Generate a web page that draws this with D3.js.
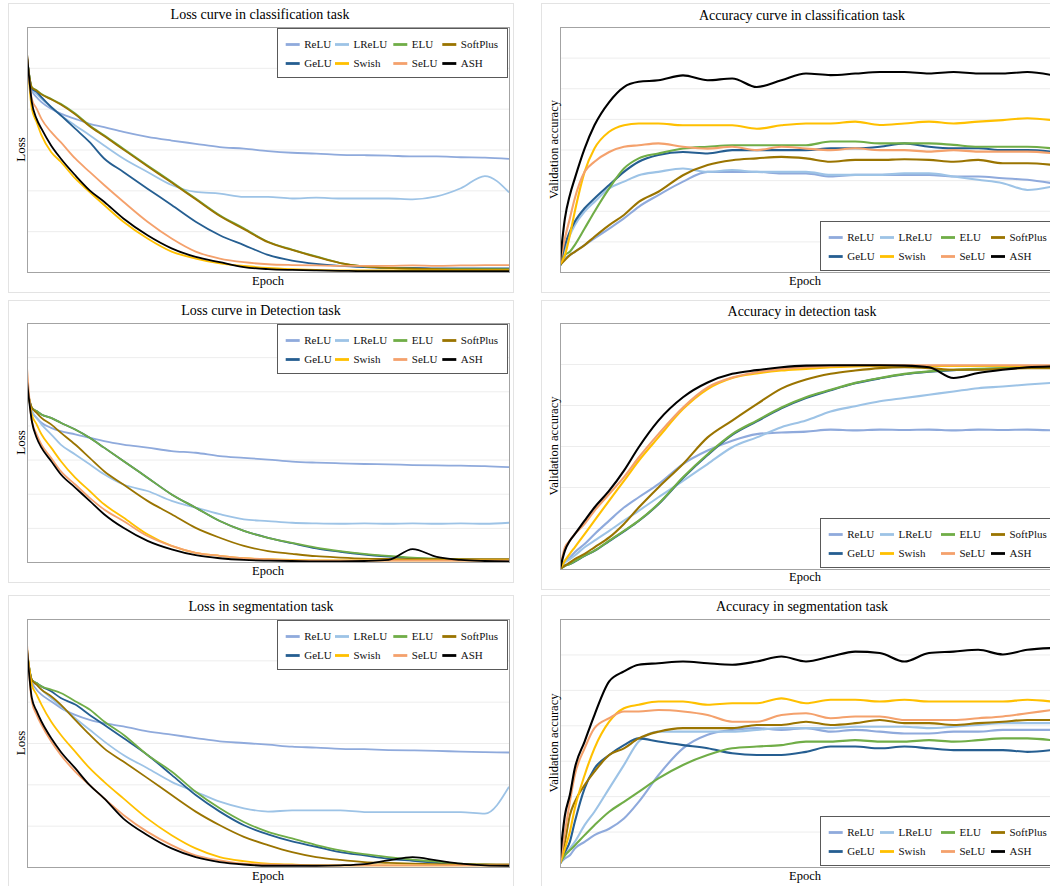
<!DOCTYPE html>
<html>
<head>
<meta charset="utf-8">
<script src="https://cdn.jsdelivr.net/npm/d3@7"></script>
<style>
  body { margin: 0; background: #fff; }
  svg { display: block; font-family: "Liberation Serif", "Times New Roman", serif; }
</style>
</head>
<body>
<svg width="1050" height="886"></svg>
<script>
let epochs = [0, 2, 4, 6, 10, 14, 20, 26, 32, 40, 50, 60, 70, 80, 90, 100, 110, 120, 130, 140, 150, 160, 170, 180, 190, 200];
let seriesNames = ["ReLU", "LReLU", "ELU", "SoftPlus", "GeLU", "Swish", "SeLU", "ASH"];
let drawOrder = ["ReLU", "LReLU", "GeLU", "ELU", "SoftPlus", "Swish", "SeLU", "ASH"];
let colors = {ReLU: "#8faadc", LReLU: "#9dc3e6", ELU: "#70ad47", SoftPlus: "#9a7400",
              GeLU: "#255e91", Swish: "#ffc000", SeLU: "#f4a16c", ASH: "#000000"};

// loss, classification
let lossClsReLU     = [5.25, 4.45, 4.28, 4.16, 4.00, 3.88, 3.75, 3.63, 3.55, 3.43, 3.31, 3.22, 3.14, 3.06, 3.02, 2.96, 2.92, 2.90, 2.87, 2.86, 2.85, 2.83, 2.83, 2.81, 2.80, 2.77];
let lossClsLReLU    = [5.25, 4.49, 4.36, 4.24, 4.04, 3.84, 3.59, 3.35, 3.10, 2.78, 2.45, 2.13, 1.96, 1.92, 1.84, 1.84, 1.80, 1.82, 1.80, 1.80, 1.80, 1.78, 1.85, 2.05, 2.35, 1.95];
let lossClsELU      = [5.25, 4.53, 4.45, 4.36, 4.24, 4.12, 3.88, 3.59, 3.35, 3.02, 2.61, 2.21, 1.80, 1.39, 1.07, 0.74, 0.55, 0.38, 0.22, 0.14, 0.10, 0.08, 0.07, 0.07, 0.07, 0.07];
let lossClsSoftPlus = [5.25, 4.52, 4.44, 4.35, 4.23, 4.10, 3.86, 3.57, 3.33, 3.00, 2.59, 2.19, 1.78, 1.37, 1.05, 0.73, 0.54, 0.37, 0.22, 0.14, 0.10, 0.08, 0.07, 0.06, 0.06, 0.06];
let lossClsGeLU     = [5.25, 4.49, 4.41, 4.28, 4.04, 3.84, 3.51, 3.18, 2.78, 2.45, 2.04, 1.64, 1.23, 0.90, 0.66, 0.42, 0.28, 0.20, 0.15, 0.12, 0.10, 0.10, 0.09, 0.09, 0.09, 0.09];
let lossClsSwish    = [5.35, 4.00, 3.67, 3.35, 2.94, 2.70, 2.29, 1.96, 1.64, 1.23, 0.82, 0.50, 0.33, 0.21, 0.15, 0.10, 0.07, 0.05, 0.04, 0.04, 0.04, 0.04, 0.04, 0.04, 0.04, 0.04];
let lossClsSeLU     = [5.30, 4.24, 4.00, 3.75, 3.43, 3.18, 2.78, 2.45, 2.13, 1.72, 1.23, 0.82, 0.50, 0.33, 0.24, 0.19, 0.17, 0.16, 0.15, 0.15, 0.15, 0.16, 0.15, 0.16, 0.17, 0.17];
let lossClsASH      = [5.35, 4.16, 3.75, 3.51, 3.10, 2.78, 2.37, 2.00, 1.72, 1.31, 0.90, 0.58, 0.37, 0.24, 0.12, 0.07, 0.05, 0.04, 0.03, 0.02, 0.02, 0.02, 0.02, 0.02, 0.02, 0.02];

// accuracy, classification
let accClsReLU     = [0.20, 0.45, 0.55, 0.66, 0.88, 1.10, 1.42, 1.75, 2.13, 2.51, 2.95, 3.27, 3.27, 3.27, 3.22, 3.22, 3.12, 3.17, 3.17, 3.17, 3.17, 3.12, 3.12, 3.06, 3.01, 2.90];
let accClsLReLU    = [0.30, 0.77, 1.20, 1.53, 1.97, 2.29, 2.73, 2.95, 3.16, 3.27, 3.38, 3.27, 3.33, 3.27, 3.27, 3.27, 3.17, 3.17, 3.17, 3.22, 3.22, 3.12, 3.01, 2.90, 2.68, 2.79];
let accClsELU      = [0.20, 0.55, 0.66, 0.88, 1.42, 1.97, 2.73, 3.38, 3.71, 3.87, 4.03, 4.09, 4.14, 4.14, 4.14, 4.14, 4.26, 4.26, 4.20, 4.20, 4.20, 4.15, 4.09, 4.09, 4.09, 4.04];
let accClsSoftPlus = [0.23, 0.39, 0.55, 0.66, 0.88, 1.15, 1.53, 1.86, 2.29, 2.62, 3.16, 3.49, 3.65, 3.71, 3.76, 3.71, 3.60, 3.66, 3.66, 3.68, 3.66, 3.60, 3.66, 3.55, 3.55, 3.50];
let accClsGeLU     = [0.20, 0.88, 1.32, 1.64, 2.08, 2.40, 2.84, 3.27, 3.60, 3.82, 3.92, 3.87, 3.98, 3.98, 3.98, 3.98, 4.04, 4.04, 4.09, 4.20, 4.09, 4.04, 4.04, 3.98, 3.98, 3.93];
let accClsSwish    = [0.25, 0.55, 1.20, 1.97, 3.27, 4.03, 4.58, 4.79, 4.85, 4.85, 4.79, 4.79, 4.79, 4.68, 4.79, 4.85, 4.85, 4.91, 4.80, 4.85, 4.91, 4.85, 4.91, 4.96, 5.02, 4.96];
let accClsSeLU     = [0.30, 1.10, 1.75, 2.40, 3.27, 3.60, 3.92, 4.09, 4.14, 4.20, 4.09, 4.03, 4.09, 3.98, 4.09, 4.03, 3.98, 4.04, 3.98, 3.98, 3.93, 3.98, 3.93, 3.93, 3.93, 3.88];
let accClsASH      = [0.34, 1.75, 2.51, 3.05, 4.03, 4.79, 5.55, 6.04, 6.21, 6.26, 6.42, 6.26, 6.32, 6.04, 6.26, 6.48, 6.43, 6.48, 6.53, 6.53, 6.48, 6.53, 6.48, 6.48, 6.53, 6.43];

// loss, detection
let lossDetReLU     = [5.10, 4.42, 4.22, 4.08, 3.93, 3.83, 3.74, 3.64, 3.54, 3.44, 3.35, 3.25, 3.20, 3.10, 3.05, 3.00, 2.94, 2.91, 2.89, 2.87, 2.86, 2.84, 2.83, 2.82, 2.81, 2.78];
let lossDetLReLU    = [5.10, 4.42, 4.22, 4.03, 3.74, 3.44, 3.15, 2.86, 2.57, 2.27, 2.08, 1.79, 1.59, 1.40, 1.25, 1.20, 1.15, 1.13, 1.12, 1.13, 1.12, 1.13, 1.12, 1.13, 1.12, 1.15];
let lossDetELU      = [5.10, 4.52, 4.42, 4.32, 4.22, 4.08, 3.88, 3.64, 3.35, 2.96, 2.47, 1.98, 1.59, 1.20, 0.91, 0.71, 0.56, 0.42, 0.32, 0.24, 0.18, 0.13, 0.10, 0.08, 0.07, 0.07];
let lossDetSoftPlus = [5.10, 4.52, 4.37, 4.22, 4.03, 3.79, 3.44, 3.05, 2.66, 2.27, 1.79, 1.40, 1.00, 0.71, 0.47, 0.32, 0.24, 0.17, 0.13, 0.10, 0.09, 0.08, 0.08, 0.08, 0.08, 0.08];
let lossDetGeLU     = [5.10, 4.52, 4.42, 4.32, 4.22, 4.08, 3.88, 3.64, 3.35, 2.96, 2.47, 1.98, 1.59, 1.20, 0.91, 0.71, 0.55, 0.40, 0.30, 0.22, 0.16, 0.11, 0.08, 0.06, 0.05, 0.05];
let lossDetSwish    = [5.20, 4.32, 4.03, 3.74, 3.35, 2.96, 2.47, 2.08, 1.69, 1.30, 0.81, 0.47, 0.27, 0.18, 0.11, 0.08, 0.06, 0.05, 0.05, 0.05, 0.05, 0.05, 0.05, 0.05, 0.05, 0.05];
let lossDetSeLU     = [5.70, 4.13, 3.74, 3.44, 3.05, 2.66, 2.27, 1.88, 1.54, 1.20, 0.76, 0.47, 0.27, 0.18, 0.11, 0.08, 0.05, 0.04, 0.04, 0.04, 0.04, 0.04, 0.04, 0.04, 0.04, 0.04];
let lossDetASH      = [5.30, 4.13, 3.64, 3.35, 2.96, 2.57, 2.18, 1.79, 1.40, 1.00, 0.62, 0.37, 0.20, 0.11, 0.06, 0.04, 0.03, 0.02, 0.02, 0.03, 0.06, 0.38, 0.15, 0.06, 0.03, 0.02];

// accuracy, detection
let accDetReLU     = [0.00, 0.20, 0.28, 0.41, 0.61, 0.85, 1.18, 1.50, 1.75, 2.07, 2.56, 2.89, 3.13, 3.29, 3.33, 3.35, 3.40, 3.38, 3.40, 3.39, 3.40, 3.38, 3.40, 3.39, 3.40, 3.38];
let accDetLReLU    = [0.00, 0.16, 0.24, 0.33, 0.53, 0.69, 0.93, 1.18, 1.42, 1.75, 2.15, 2.56, 2.97, 3.21, 3.46, 3.62, 3.84, 3.97, 4.09, 4.17, 4.25, 4.33, 4.41, 4.45, 4.50, 4.54];
let accDetELU      = [0.00, 0.08, 0.12, 0.19, 0.33, 0.45, 0.69, 0.93, 1.18, 1.59, 2.24, 2.80, 3.29, 3.62, 3.94, 4.19, 4.37, 4.54, 4.66, 4.76, 4.82, 4.86, 4.88, 4.90, 4.92, 4.93];
let accDetSoftPlus = [0.00, 0.08, 0.16, 0.24, 0.37, 0.53, 0.77, 1.10, 1.50, 1.99, 2.56, 3.21, 3.62, 4.02, 4.40, 4.62, 4.76, 4.84, 4.90, 4.92, 4.90, 4.86, 4.86, 4.88, 4.90, 4.90];
let accDetGeLU     = [0.00, 0.08, 0.12, 0.18, 0.32, 0.44, 0.68, 0.92, 1.17, 1.58, 2.22, 2.78, 3.27, 3.60, 3.92, 4.17, 4.36, 4.53, 4.65, 4.75, 4.81, 4.85, 4.87, 4.89, 4.91, 4.92];
let accDetSwish    = [0.00, 0.20, 0.37, 0.53, 0.85, 1.18, 1.67, 2.15, 2.64, 3.21, 3.90, 4.39, 4.66, 4.77, 4.84, 4.88, 4.92, 4.94, 4.95, 4.95, 4.95, 4.95, 4.95, 4.95, 4.95, 4.95];
let accDetSeLU     = [0.00, 0.53, 0.69, 0.85, 1.10, 1.42, 1.83, 2.24, 2.72, 3.29, 3.94, 4.43, 4.67, 4.80, 4.88, 4.92, 4.95, 4.97, 4.97, 4.97, 4.97, 4.97, 4.97, 4.97, 4.97, 4.97];
let accDetASH      = [0.00, 0.45, 0.69, 0.85, 1.18, 1.50, 1.91, 2.40, 2.97, 3.62, 4.19, 4.55, 4.76, 4.85, 4.92, 4.96, 4.97, 4.97, 4.97, 4.96, 4.92, 4.66, 4.78, 4.86, 4.92, 4.94];

// loss, segmentation
let lossSegReLU     = [5.20, 4.49, 4.29, 4.17, 4.01, 3.85, 3.68, 3.56, 3.48, 3.40, 3.28, 3.20, 3.12, 3.04, 3.00, 2.96, 2.91, 2.89, 2.86, 2.85, 2.83, 2.82, 2.81, 2.79, 2.78, 2.77];
let lossSegLReLU    = [5.20, 4.53, 4.41, 4.29, 4.09, 3.89, 3.60, 3.32, 3.04, 2.71, 2.39, 2.06, 1.82, 1.58, 1.42, 1.34, 1.37, 1.37, 1.37, 1.33, 1.33, 1.33, 1.33, 1.33, 1.29, 1.94];
let lossSegELU      = [5.20, 4.53, 4.45, 4.37, 4.29, 4.21, 4.01, 3.81, 3.52, 3.20, 2.71, 2.31, 1.82, 1.42, 1.09, 0.85, 0.69, 0.53, 0.40, 0.31, 0.24, 0.18, 0.13, 0.08, 0.06, 0.04];
let lossSegSoftPlus = [5.20, 4.53, 4.41, 4.29, 4.13, 3.93, 3.56, 3.20, 2.87, 2.55, 2.15, 1.74, 1.34, 1.01, 0.73, 0.53, 0.36, 0.24, 0.17, 0.12, 0.10, 0.08, 0.07, 0.06, 0.06, 0.06];
let lossSegGeLU     = [5.20, 4.53, 4.45, 4.37, 4.25, 4.09, 3.93, 3.68, 3.44, 3.12, 2.71, 2.23, 1.74, 1.34, 1.01, 0.79, 0.62, 0.49, 0.36, 0.28, 0.20, 0.15, 0.10, 0.06, 0.05, 0.04];
let lossSegSwish    = [5.30, 4.41, 4.17, 3.93, 3.52, 3.20, 2.79, 2.39, 2.06, 1.66, 1.17, 0.77, 0.45, 0.24, 0.14, 0.08, 0.06, 0.04, 0.04, 0.04, 0.04, 0.04, 0.04, 0.04, 0.04, 0.04];
let lossSegSeLU     = [5.40, 4.01, 3.68, 3.44, 3.04, 2.71, 2.31, 1.98, 1.66, 1.26, 0.85, 0.53, 0.28, 0.16, 0.08, 0.06, 0.05, 0.04, 0.04, 0.04, 0.04, 0.04, 0.04, 0.04, 0.04, 0.04];
let lossSegASH      = [5.30, 4.09, 3.77, 3.52, 3.12, 2.79, 2.39, 1.98, 1.66, 1.17, 0.77, 0.45, 0.24, 0.12, 0.06, 0.03, 0.03, 0.03, 0.04, 0.07, 0.16, 0.24, 0.16, 0.08, 0.04, 0.03];

// accuracy, segmentation
let accSegReLU     = [0.10, 0.24, 0.33, 0.52, 0.71, 0.90, 1.08, 1.37, 1.84, 2.59, 3.35, 3.73, 3.87, 3.92, 3.87, 3.92, 3.82, 3.87, 3.82, 3.77, 3.77, 3.82, 3.82, 3.87, 3.87, 3.87];
let accSegLReLU    = [0.10, 0.33, 0.52, 0.71, 1.18, 1.56, 2.22, 2.88, 3.54, 3.82, 3.82, 3.82, 3.82, 3.87, 3.92, 3.92, 3.92, 3.96, 3.96, 3.96, 3.92, 3.96, 4.01, 4.06, 4.06, 4.06];
let accSegELU      = [0.10, 0.33, 0.47, 0.61, 0.90, 1.18, 1.56, 1.84, 2.12, 2.50, 2.88, 3.16, 3.35, 3.40, 3.44, 3.54, 3.54, 3.58, 3.54, 3.54, 3.58, 3.54, 3.58, 3.63, 3.63, 3.58];
let accSegSoftPlus = [0.10, 0.71, 1.46, 1.84, 2.31, 2.69, 3.16, 3.35, 3.63, 3.82, 3.92, 3.92, 3.92, 4.01, 4.01, 4.10, 4.01, 4.06, 4.15, 4.06, 4.06, 4.01, 4.06, 4.10, 4.15, 4.15];
let accSegGeLU     = [0.10, 0.42, 0.71, 1.27, 2.22, 2.78, 3.16, 3.44, 3.63, 3.54, 3.44, 3.35, 3.21, 3.16, 3.16, 3.25, 3.40, 3.40, 3.35, 3.40, 3.35, 3.30, 3.30, 3.30, 3.25, 3.30];
let accSegSwish    = [0.10, 0.52, 0.99, 1.65, 2.59, 3.35, 4.10, 4.48, 4.58, 4.67, 4.67, 4.58, 4.62, 4.62, 4.76, 4.62, 4.72, 4.72, 4.67, 4.72, 4.67, 4.67, 4.67, 4.67, 4.72, 4.67];
let accSegSeLU     = [0.10, 0.99, 1.84, 2.59, 3.35, 3.92, 4.20, 4.39, 4.39, 4.43, 4.39, 4.29, 4.10, 4.10, 4.29, 4.34, 4.20, 4.25, 4.25, 4.15, 4.15, 4.15, 4.20, 4.25, 4.34, 4.43];
let accSegASH      = [0.24, 1.46, 2.03, 2.78, 3.54, 4.29, 5.24, 5.52, 5.71, 5.75, 5.80, 5.75, 5.71, 5.80, 5.94, 5.80, 5.94, 6.08, 6.04, 5.80, 6.04, 6.08, 6.13, 6.00, 6.13, 6.18];

let svg = d3.select("svg");

// panel layout (pixels)
let panels = [
  {title: "Loss curve in classification task", yLabel: "Loss", yMax: 6,
   series: {ReLU: lossClsReLU, LReLU: lossClsLReLU, ELU: lossClsELU, SoftPlus: lossClsSoftPlus,
            GeLU: lossClsGeLU, Swish: lossClsSwish, SeLU: lossClsSeLU, ASH: lossClsASH},
   box: [8, 3, 505, 289], left: 27, right: 509, top: 27, bottom: 272, titleX: 260, titleY: 19, epochY: 285, side: "L"},
  {title: "Accuracy curve in classification task", yLabel: "Validation accuracy", yMax: 8,
   series: {ReLU: accClsReLU, LReLU: accClsLReLU, ELU: accClsELU, SoftPlus: accClsSoftPlus,
            GeLU: accClsGeLU, Swish: accClsSwish, SeLU: accClsSeLU, ASH: accClsASH},
   box: [541, 3, 540, 289], left: 560, right: 1052, top: 27, bottom: 272, titleX: 802, titleY: 19.5, epochY: 285, side: "R"},
  {title: "Loss curve in Detection task", yLabel: "Loss", yMax: 7,
   series: {ReLU: lossDetReLU, LReLU: lossDetLReLU, ELU: lossDetELU, SoftPlus: lossDetSoftPlus,
            GeLU: lossDetGeLU, Swish: lossDetSwish, SeLU: lossDetSeLU, ASH: lossDetASH},
   box: [8, 300, 505, 282], left: 27, right: 509, top: 323, bottom: 562, titleX: 261, titleY: 315, epochY: 575, side: "L"},
  {title: "Accuracy in detection task", yLabel: "Validation accuracy", yMax: 6,
   series: {ReLU: accDetReLU, LReLU: accDetLReLU, ELU: accDetELU, SoftPlus: accDetSoftPlus,
            GeLU: accDetGeLU, Swish: accDetSwish, SeLU: accDetSeLU, ASH: accDetASH},
   box: [541, 300, 540, 289], left: 560, right: 1052, top: 323, bottom: 569, titleX: 802, titleY: 316, epochY: 581, side: "R"},
  {title: "Loss in segmentation task", yLabel: "Loss", yMax: 6,
   series: {ReLU: lossSegReLU, LReLU: lossSegLReLU, ELU: lossSegELU, SoftPlus: lossSegSoftPlus,
            GeLU: lossSegGeLU, Swish: lossSegSwish, SeLU: lossSegSeLU, ASH: lossSegASH},
   box: [8, 595, 505, 300], left: 27, right: 509, top: 619, bottom: 867, titleX: 261, titleY: 611, epochY: 880, side: "L"},
  {title: "Accuracy in segmentation task", yLabel: "Validation accuracy", yMax: 7,
   series: {ReLU: accSegReLU, LReLU: accSegLReLU, ELU: accSegELU, SoftPlus: accSegSoftPlus,
            GeLU: accSegGeLU, Swish: accSegSwish, SeLU: accSegSeLU, ASH: accSegASH},
   box: [541, 595, 540, 300], left: 560, right: 1052, top: 619, bottom: 867, titleX: 802, titleY: 611, epochY: 880, side: "R"}
];

panels.forEach((p, k) => {
  let g = svg.append("g");

  g.append("rect")
      .attr("x", p.box[0] + 0.5).attr("y", p.box[1] + 0.5)
      .attr("width", p.box[2]).attr("height", p.box[3])
      .attr("fill", "#fff").attr("stroke", "#e3e3e3");

  let x = d3.scaleLinear().domain([0, 200]).range([p.left, p.right]);
  let y = d3.scaleLinear().domain([0, p.yMax]).range([p.bottom, p.top]);

  // horizontal gridlines
  g.append("g")
      .attr("transform", "translate(" + p.left + ",0)")
      .call(d3.axisLeft(y).ticks(p.yMax).tickSize(-(p.right - p.left)).tickFormat(""))
      .call(a => a.select(".domain").remove())
      .selectAll("line").attr("stroke", "#ededed");

  g.append("clipPath").attr("id", "clip" + k)
    .append("rect")
      .attr("x", p.left).attr("y", p.top)
      .attr("width", p.right - p.left).attr("height", p.bottom - p.top);

  let line = d3.line()
      .x((d, i) => x(epochs[i]))
      .y(d => y(d))
      .curve(d3.curveMonotoneX);

  g.append("g").attr("clip-path", "url(#clip" + k + ")")
    .selectAll("path")
    .data(drawOrder)
    .enter().append("path")
      .attr("d", s => line(p.series[s]))
      .attr("fill", "none")
      .attr("stroke", s => colors[s])
      .attr("stroke-width", p.side == "L" ? 1.8 : 2.1)
      .attr("stroke-linejoin", "round");

  g.append("rect")
      .attr("x", p.left + 0.5).attr("y", p.top + 0.5)
      .attr("width", p.right - p.left).attr("height", p.bottom - p.top)
      .attr("fill", "none").attr("stroke", "#a3a3a3");

  g.append("text")
      .attr("x", p.titleX).attr("y", p.titleY)
      .attr("text-anchor", "middle")
      .style("font-size", "14px").style("fill", "#000")
      .text(p.title);

  g.append("text")
      .attr("x", (p.left + p.right) / 2 + (p.side == "L" ? 0 : -1)).attr("y", p.epochY)
      .attr("text-anchor", "middle")
      .style("font-size", "12.5px").style("fill", "#000")
      .text("Epoch");

  let lx = p.side == "L" ? 24.5 : 557.5;
  g.append("text")
      .attr("transform", "translate(" + lx + "," + (p.top + p.bottom) / 2 + ") rotate(-90)")
      .attr("text-anchor", "middle")
      .style("font-size", p.side == "L" ? "13px" : "12.5px").style("fill", "#000")
      .text(p.yLabel);

  // legend
  let boxX = p.right - 232;
  let boxY = p.side == "L" ? p.top + 1 : p.bottom - 51;
  let colX = p.side == "L" ? [8.7, 58, 116.3, 165.3] : [8.7, 60, 121, 171];
  let lg = g.append("g").attr("transform", "translate(" + boxX + "," + boxY + ")");
  lg.append("rect")
      .attr("x", 0.5).attr("y", 0.5)
      .attr("width", 230).attr("height", 49)
      .attr("fill", "#fff").attr("stroke", "#595959");

  let item = lg.selectAll(".item")
    .data(seriesNames)
    .enter().append("g")
      .attr("class", "item")
      .attr("transform", (s, i) => "translate(" + colX[i % 4] + "," + (i < 4 ? 16.5 : 35.5) + ")");
  item.append("line")
      .attr("x1", 0).attr("x2", 14)
      .attr("stroke", s => colors[s]).attr("stroke-width", 2.8);
  item.append("text")
      .attr("x", 18.5).attr("dy", "0.35em")
      .style("font-size", "11px").style("fill", "#111")
      .text(s => s);
});
</script>
</body>
</html>
